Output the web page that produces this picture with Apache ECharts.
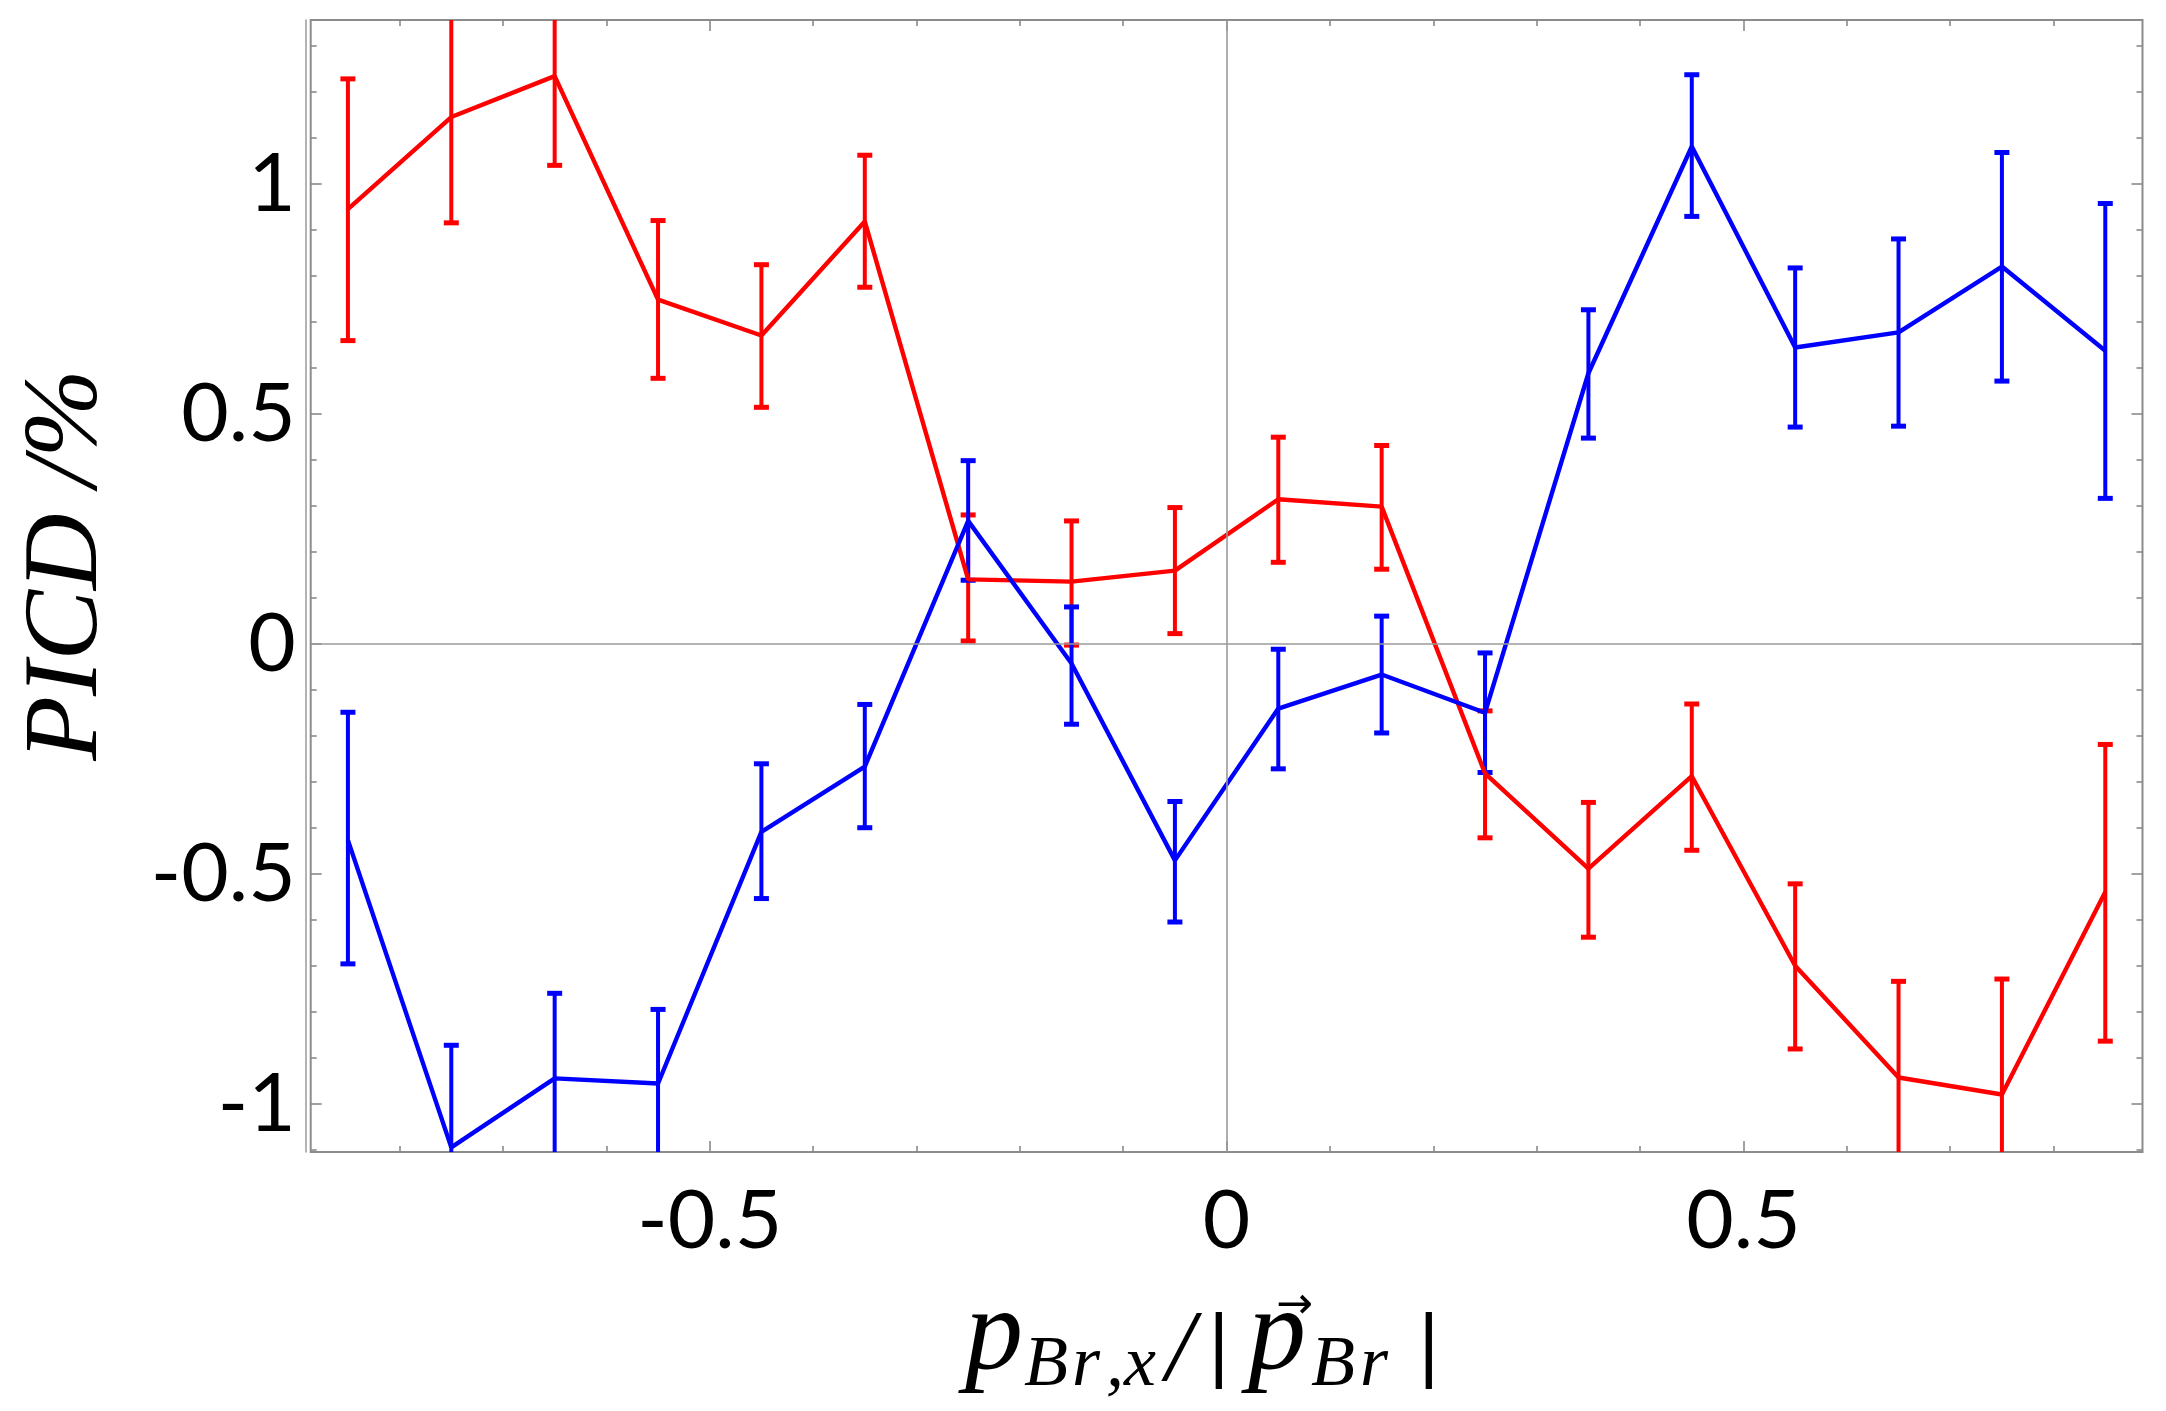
<!DOCTYPE html>
<html><head><meta charset="utf-8">
<script src="https://cdn.jsdelivr.net/npm/echarts@6/dist/echarts.min.js"></script>
<style>html,body{margin:0;padding:0;background:#fff}#c{width:2166px;height:1411px}</style>
</head><body><div id="c"></div>
<script>
const xValues = [-0.85,-0.75,-0.65,-0.55,-0.45,-0.35,-0.25,-0.15,-0.05,0.05,0.15,0.25,0.35,0.45,0.55,0.65,0.75,0.85];
const redValues = [0.946,1.146,1.235,0.749,0.671,0.919,0.141,0.136,0.160,0.315,0.299,-0.281,-0.488,-0.287,-0.699,-0.942,-0.979,-0.539];
const redHigh   = [1.229,1.376,1.430,0.921,0.825,1.063,0.281,0.268,0.297,0.450,0.432,-0.145,-0.344,-0.130,-0.521,-0.733,-0.728,-0.218];
const redLow    = [0.660,0.916,1.041,0.578,0.515,0.776,0.007,-0.002,0.023,0.178,0.163,-0.421,-0.637,-0.448,-0.880,-1.150,-1.230,-0.863];
const blueValues = [-0.426,-1.094,-0.944,-0.955,-0.408,-0.266,0.268,-0.042,-0.470,-0.140,-0.066,-0.149,0.589,1.082,0.645,0.678,0.821,0.638];
const blueHigh   = [-0.148,-0.872,-0.759,-0.794,-0.260,-0.131,0.399,0.081,-0.342,-0.011,0.061,-0.019,0.727,1.238,0.818,0.881,1.069,0.958];
const blueLow    = [-0.695,-1.316,-1.129,-1.116,-0.553,-0.399,0.139,-0.174,-0.604,-0.271,-0.193,-0.279,0.448,0.930,0.472,0.474,0.572,0.317];
const xMajorTicks = [-0.5, 0, 0.5];
const xMinorTicks = [-0.8,-0.7,-0.6,-0.4,-0.3,-0.2,-0.1,0.1,0.2,0.3,0.4,0.6,0.7,0.8];
const yMajorTicks = [-1, -0.5, 0, 0.5, 1];
const yMinorTicks = [-1.1,-0.9,-0.8,-0.7,-0.6,-0.4,-0.3,-0.2,-0.1,0.1,0.2,0.3,0.4,0.6,0.7,0.8,0.9,1.1,1.2,1.3];
const xRange = [-0.886, 0.886];
const yRange = [-1.104, 1.357];
const yTitle = 'PICD /%';

const RED = '#ff0000', BLUE = '#0000ff', TICK = '#8a8a8a';
const labelFont = {fontFamily: 'Lato', fontSize: 82, color: '#000'};

function xAxisDef(pos, ticks, len, withLabels) {
  const a = {
    type: 'value', position: pos, min: xRange[0], max: xRange[1],
    axisLine: {show: false, onZero: false}, splitLine: {show: false},
    axisTick: {show: true, inside: true, length: len, customValues: ticks, lineStyle: {color: TICK, width: 1.6}},
    axisLabel: {show: false}
  };
  if (withLabels) {
    a.axisLabel = Object.assign({show: true, margin: 29, customValues: ticks, formatter: v => String(v)}, labelFont);
  }
  return a;
}
function yAxisDef(pos, ticks, len, withLabels) {
  const a = {
    type: 'value', position: pos, min: yRange[0], max: yRange[1],
    axisLine: {show: false, onZero: false}, splitLine: {show: false},
    axisTick: {show: true, inside: true, length: len, customValues: ticks, lineStyle: {color: TICK, width: 1.6}},
    axisLabel: {show: false}
  };
  if (withLabels) {
    a.axisLabel = Object.assign({show: true, margin: 15, customValues: ticks, formatter: v => String(v)}, labelFont);
    a.name = yTitle;
    a.nameLocation = 'middle';
    a.nameRotate = 90;
    a.nameGap = 190;
    a.nameTextStyle = {fontFamily: 'Liberation Serif', fontStyle: 'italic', fontSize: 106, color: '#000', padding: [0, 0, 0, 42]};
  }
  return a;
}

function errorBars(low, high, color) {
  return {
    type: 'custom', xAxisIndex: 0, yAxisIndex: 0, clip: true, silent: true,
    data: xValues.map((x, i) => [x, low[i], high[i]]),
    renderItem: function (params, api) {
      const x = api.value(0), lo = api.value(1), hi = api.value(2);
      const hiC = Math.min(hi, yRange[1]), loC = Math.max(lo, yRange[0]);
      const p1 = api.coord([x, hiC]), p2 = api.coord([x, loC]);
      const hw = 7.5;
      const ch = [{type: 'line', shape: {x1: p1[0], y1: p1[1], x2: p2[0], y2: p2[1]}, style: {stroke: color, lineWidth: 4}}];
      if (hi <= yRange[1]) ch.push({type: 'line', shape: {x1: p1[0] - hw, y1: p1[1], x2: p1[0] + hw, y2: p1[1]}, style: {stroke: color, lineWidth: 5}});
      if (lo >= yRange[0]) ch.push({type: 'line', shape: {x1: p2[0] - hw, y1: p2[1], x2: p2[0] + hw, y2: p2[1]}, style: {stroke: color, lineWidth: 5}});
      return {type: 'group', children: ch};
    }
  };
}
function lineSeries(vals, color, extra) {
  return Object.assign({
    type: 'line', xAxisIndex: 0, yAxisIndex: 0, data: xValues.map((x, i) => [x, vals[i]]),
    showSymbol: false, symbol: 'none', clip: true, silent: true,
    lineStyle: {color: color, width: 4.4}, itemStyle: {color: color}
  }, extra || {});
}

// x-axis title p_{Br,x}/|p⃗_{Br}| built from text pieces
const serifI = 'italic 116px "Liberation Serif"';
const subI = 'italic 72px "Liberation Serif"';
function piece(text, x, yMid, font) {
  return {type: 'text', x: x, y: yMid, silent: true,
    style: {text: text, font: font, fill: '#000', textAlign: 'left', textVerticalAlign: 'middle'}};
}
const titleX = [
  piece('p', 965, 1337, serifI),
  piece('B', 1024, 1366, subI),
  piece('r', 1072, 1366, subI),
  piece(',', 1106, 1366, subI),
  piece('x', 1124, 1366, subI),
  piece('/', 1166, 1353, 'italic 102px "Liberation Serif"'),
  piece('|', 1206, 1350, '76px "DejaVu Sans"'),
  piece('p', 1248, 1337, serifI),
  piece('\u2192', 1276, 1307, '44px "DejaVu Sans"'),
  piece('B', 1311, 1366, subI),
  piece('r', 1360, 1366, subI),
  piece('|', 1416, 1350, '76px "DejaVu Sans"')
];

const chart = echarts.init(document.getElementById('c'), null, {renderer: 'canvas'});
chart.setOption({
  animation: false,
  backgroundColor: '#fff',
  grid: {left: 310.7, right: 23.5, top: 20, bottom: 259, show: true, borderColor: '#8c8c8c', borderWidth: 2, backgroundColor: 'transparent', outerBoundsMode: 'none'},
  xAxis: [
    xAxisDef('bottom', xMinorTicks, 6, false),
    xAxisDef('bottom', xMajorTicks, 11, true),
    xAxisDef('top', xMinorTicks, 6, false),
    xAxisDef('top', xMajorTicks, 11, false)
  ],
  yAxis: [
    yAxisDef('left', yMinorTicks, 6, false),
    yAxisDef('left', yMajorTicks, 11, true),
    yAxisDef('right', yMinorTicks, 6, false),
    yAxisDef('right', yMajorTicks, 11, false),
    {type: 'value', position: 'left', offset: 5, min: yRange[0], max: yRange[1],
     axisLine: {show: true, onZero: false, lineStyle: {color: '#9a9a9a', width: 1.5}}, axisTick: {show: false}, axisLabel: {show: false}, splitLine: {show: false}}
  ],
  graphic: titleX,
  series: [
    errorBars(redLow, redHigh, RED),
    lineSeries(redValues, RED, {
      markLine: {silent: true, symbol: ['none', 'none'], label: {show: false},
        lineStyle: {color: '#9a9a9a', width: 1.6, type: 'solid'}, emphasis: {disabled: true},
        data: [{xAxis: 0}, {yAxis: 0}]}
    }),
    errorBars(blueLow, blueHigh, BLUE),
    lineSeries(blueValues, BLUE)
  ]
});
</script></body></html>
